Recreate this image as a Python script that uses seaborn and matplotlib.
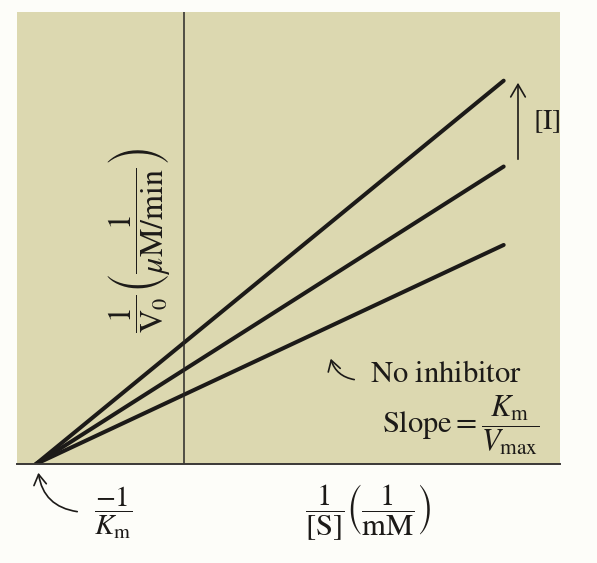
import matplotlib
matplotlib.use("Agg")
import matplotlib.pyplot as plt
import seaborn as sns
import pandas as pd
from matplotlib.patches import FancyArrowPatch

# ---- data (Lineweaver-Burk, noncompetitive inhibition) ----
inv_S = [-1.0, 2.16]                 # 1/[S]; -1/Km at -1
no_inhibitor = [0.0, 1.48]           # 1/V0
inhibitor_low = [0.0, 2.01]
inhibitor_high = [0.0, 2.59]
series_names = ["No inhibitor", "[I] low", "[I] high"]

rows = []
for name, ys in zip(series_names, [no_inhibitor, inhibitor_low, inhibitor_high]):
    for x, y in zip(inv_S, ys):
        rows.append({"x": x, "y": y, "series": name})
df = pd.DataFrame(rows)

sns.set_theme(style="white")
plt.rcParams["font.family"] = ["DejaVu Serif"]
plt.rcParams["mathtext.fontset"] = "stix"

W, H = 597, 563
fig = plt.figure(figsize=(W / 100, H / 100), dpi=100)
fig.patch.set_facecolor("#fdfdf9")

left, right, top, bottom = 17, 560, 12, 464
ax = fig.add_axes([left / W, 1 - bottom / H, (right - left) / W, (bottom - top) / H])
ax.set_facecolor("#dcd8b0")

sns.lineplot(data=df, x="x", y="y", hue="series", ax=ax,
             palette=["#1c1a18"] * 3, linewidth=2.9, legend=False,
             estimator=None, sort=False)

px = 148.0
x0 = 184
ax.set_xlim(-(x0 - left) / px, (right - x0) / px)
ax.set_ylim(0, (bottom - top) / px)

for s in ["top", "right", "left"]:
    ax.spines[s].set_visible(False)
ax.spines["bottom"].set_color("#3a3836")
ax.spines["bottom"].set_linewidth(1.4)
ax.axvline(0, color="#2a2826", lw=1.1)
ax.set_xticks([])
ax.set_yticks([])
ax.set_xlabel("")
ax.set_ylabel("")

serif = dict(family="DejaVu Serif", color="#1c1a18")

def fx(p):
    return p / W

def fy(p):
    return 1 - p / H

# y label
fig.text(fx(139), fy(240), r"$\dfrac{1}{\mathrm{V}_0}\left(\dfrac{1}{\mu\mathrm{M/min}}\right)$",
         rotation=90, ha="center", va="center", fontsize=23, **serif)
# x label
fig.text(fx(368), fy(512), r"$\dfrac{1}{[\mathrm{S}]}\left(\dfrac{1}{\mathrm{m}\mathrm{M}}\right)$",
         ha="center", va="center", fontsize=22, **serif)
# -1/Km
fig.text(fx(113), fy(513), r"$\dfrac{-1}{K_\mathrm{m}}$", ha="center", va="center",
         fontsize=21, **serif)
arr = FancyArrowPatch((fx(80), fy(512)), (fx(38), fy(470)), transform=fig.transFigure,
                      connectionstyle="arc3,rad=-0.4", arrowstyle="->,head_length=5,head_width=3",
                      color="#1c1a18", lw=1.2, mutation_scale=1.5)
fig.add_artist(arr)

# No inhibitor
fig.text(fx(370), fy(373), r"$\mathrm{No\ inhibitor}$", ha="left", va="center",
         fontsize=22, **serif)
arr2 = FancyArrowPatch((fx(357), fy(380)), (fx(330), fy(356)), transform=fig.transFigure,
                       connectionstyle="arc3,rad=-0.35", arrowstyle="->,head_length=5,head_width=3",
                       color="#1c1a18", lw=1.2, mutation_scale=1.5)
fig.add_artist(arr2)

# Slope
fig.text(fx(382), fy(425), r"$\mathrm{Slope} = \dfrac{K_\mathrm{m}}{V_\mathrm{max}}$",
         ha="left", va="center", fontsize=22, **serif)

# [I] arrow
arr3 = FancyArrowPatch((fx(518), fy(162)), (fx(518), fy(80)), transform=fig.transFigure,
                       arrowstyle="->,head_length=6,head_width=3.5",
                       color="#1c1a18", lw=1.2, mutation_scale=1.5)
fig.add_artist(arr3)
fig.text(fx(533), fy(122), r"$[\mathrm{I}]$", ha="left", va="center", fontsize=20, **serif)

fig.savefig("out.png", dpi=100, facecolor=fig.get_facecolor())
